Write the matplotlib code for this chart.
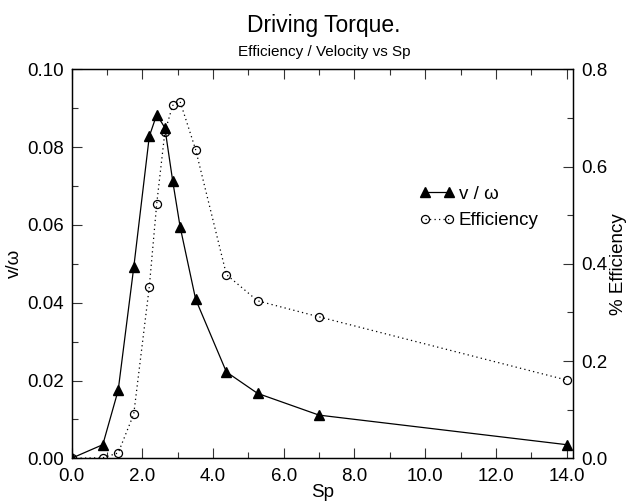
import matplotlib
matplotlib.use("Agg")
import matplotlib.pyplot as plt
from matplotlib.ticker import MultipleLocator, FormatStrFormatter

plt.rcParams['font.family'] = ['Liberation Sans', 'DejaVu Sans']

sp = [0.0, 0.885, 1.32, 1.76, 2.20, 2.41, 2.64, 2.86, 3.07, 3.51, 4.38, 5.26, 7.0, 14.0]
v_omega = [0.0, 0.0035, 0.0175, 0.0491, 0.0828, 0.0884, 0.0850, 0.0714, 0.0596,
           0.0409, 0.0222, 0.0167, 0.0111, 0.0035]
efficiency = [0.0, 0.001, 0.011, 0.091, 0.353, 0.524, 0.671, 0.726, 0.734,
              0.635, 0.378, 0.324, 0.291, 0.161]

title = "Driving Torque."
subtitle = "Efficiency / Velocity vs Sp"
xlabel = "Sp"
ylabel_left = "v/\u03c9"
ylabel_right = "% Efficiency"
label_v = "v / \u03c9"
label_eff = "Efficiency"

fig = plt.figure(figsize=(6.3, 5.03), dpi=100)
ax = fig.add_axes([0.1135, 0.0889, 0.7960, 0.7730])
ax2 = ax.twinx()

FS = 13.5

l1, = ax.plot(sp, v_omega, color='black', lw=0.9, marker='^', ms=7.2,
              mfc='black', mec='black', label=label_v, zorder=3)
l2, = ax2.plot(sp, efficiency, color='black', lw=0.9, linestyle=(0, (1, 2.6)),
               marker='o', ms=5.8, mfc='none', mec='black', mew=0.9,
               label=label_eff)

ax.set_xlim(0, 14.18)
ax.set_ylim(0, 0.10)
ax2.set_ylim(0, 0.8)

ax.xaxis.set_major_locator(MultipleLocator(2))
ax.xaxis.set_minor_locator(MultipleLocator(1))
ax.xaxis.set_major_formatter(FormatStrFormatter('%.1f'))
ax.yaxis.set_major_locator(MultipleLocator(0.02))
ax.yaxis.set_minor_locator(MultipleLocator(0.01))
ax.yaxis.set_major_formatter(FormatStrFormatter('%.2f'))
ax2.yaxis.set_major_locator(MultipleLocator(0.2))
ax2.yaxis.set_minor_locator(MultipleLocator(0.1))
ax2.yaxis.set_major_formatter(FormatStrFormatter('%.1f'))

for a in (ax, ax2):
    for s in a.spines.values():
        s.set_linewidth(0.9)
        s.set_color('black')

ax.tick_params(axis='x', which='both', direction='in', top=True, labelsize=FS,
               pad=7, color='#333333', width=0.8)
ax.tick_params(axis='x', which='major', length=7.5)
ax.tick_params(axis='x', which='minor', length=4)
ax.tick_params(axis='y', which='both', direction='in', labelsize=FS, pad=5.5,
               color='#333333', width=0.8)
ax.tick_params(axis='y', which='major', length=7.5)
ax.tick_params(axis='y', which='minor', length=4)
ax2.tick_params(axis='y', which='both', direction='in', labelsize=FS, pad=6,
                color='#333333', width=0.8)
ax2.tick_params(axis='y', which='major', length=7.5)
ax2.tick_params(axis='y', which='minor', length=4)

ax.set_xlabel(xlabel, fontsize=FS, labelpad=-1)
ax.set_ylabel(ylabel_left, fontsize=FS, labelpad=3)
ax2.set_ylabel(ylabel_right, fontsize=FS, labelpad=1.5)

fig.text(0.514, 0.937, title, fontsize=16.5, ha='center', va='baseline')
fig.text(0.514, 0.8887, subtitle, fontsize=11, ha='center', va='baseline')

ax.legend(handles=[l1, l2], loc='center left', bbox_to_anchor=(0.674, 0.645),
          frameon=False, fontsize=FS, borderpad=0, handlelength=1.93,
          handletextpad=0.2, labelspacing=0.5, numpoints=2)

fig.savefig("out.png", dpi=100)
